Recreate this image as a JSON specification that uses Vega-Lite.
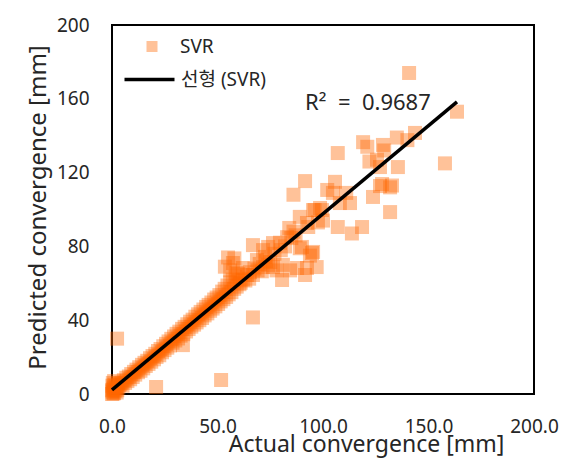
{
  "$schema": "https://vega.github.io/schema/vega-lite/v6.json",
  "autosize": {"type": "none"},
  "padding": {"left": 112, "top": 25, "right": 31, "bottom": 72},
  "width": 422,
  "height": 369,
  "view": {"stroke": "#000000", "strokeWidth": 2},
  "config": {
    "font": "Noto Sans, Noto Sans CJK KR, sans-serif",
    "view": {"stroke": "#000000", "strokeWidth": 2},
    "axis": {"grid": false, "domain": false, "ticks": false, "tickSize": 0, "labelFlush": false, "labelColor": "#262626", "titleColor": "#262626", "labelFontSize": 19, "titleFontSize": 23, "titleFontWeight": "normal"},
    "legend": {"labelFontSize": 19, "labelColor": "#262626", "padding": 0, "orient": "none"}
  },
  "datasets": {
    "pts": [
      {"actual": 0, "predicted": 0}, {"actual": 0.3, "predicted": 1.2}, {"actual": 0.5, "predicted": 2.5}, {"actual": 1, "predicted": 0.5},
      {"actual": 0.8, "predicted": 3.5}, {"actual": 1.5, "predicted": 1.8}, {"actual": 2, "predicted": 3}, {"actual": 0.2, "predicted": 4.5},
      {"actual": 1.2, "predicted": 5}, {"actual": 2.5, "predicted": 2}, {"actual": 0, "predicted": 2}, {"actual": 0.6, "predicted": 0.2},
      {"actual": 1.8, "predicted": 4.2}, {"actual": 3, "predicted": 3.5}, {"actual": 2.2, "predicted": 0.8}, {"actual": 0.4, "predicted": 6},
      {"actual": 3.5, "predicted": 4.8}, {"actual": 1, "predicted": 7}, {"actual": 4, "predicted": 5.5}, {"actual": 2.8, "predicted": 5.8},
      {"actual": 4.5, "predicted": 6.2}, {"actual": 5, "predicted": 4.5}, {"actual": 5.6, "predicted": 7.5}, {"actual": 6.2, "predicted": 6},
      {"actual": 6.8, "predicted": 8.8}, {"actual": 7.3, "predicted": 7}, {"actual": 8, "predicted": 9.5}, {"actual": 8.6, "predicted": 8},
      {"actual": 9.1, "predicted": 10.8}, {"actual": 9.8, "predicted": 9.2}, {"actual": 10.4, "predicted": 12}, {"actual": 11, "predicted": 10.5},
      {"actual": 11.6, "predicted": 13.2}, {"actual": 12.3, "predicted": 11.8}, {"actual": 12.9, "predicted": 14.5}, {"actual": 13.5, "predicted": 12.6},
      {"actual": 14.2, "predicted": 15.8}, {"actual": 14.8, "predicted": 13.9}, {"actual": 15.4, "predicted": 16.9}, {"actual": 16, "predicted": 15.2},
      {"actual": 16.7, "predicted": 18}, {"actual": 17.3, "predicted": 16.3}, {"actual": 18, "predicted": 19.4}, {"actual": 18.6, "predicted": 17.5},
      {"actual": 19.2, "predicted": 20.6}, {"actual": 19.9, "predicted": 18.8}, {"actual": 20.5, "predicted": 21.8}, {"actual": 21.1, "predicted": 20.1},
      {"actual": 21.8, "predicted": 23.3}, {"actual": 22.4, "predicted": 21}, {"actual": 23, "predicted": 24.4}, {"actual": 23.7, "predicted": 22.6},
      {"actual": 24.3, "predicted": 25.9}, {"actual": 24.9, "predicted": 23.8}, {"actual": 25.6, "predicted": 27.2}, {"actual": 26.2, "predicted": 25.1},
      {"actual": 26.8, "predicted": 28.5}, {"actual": 27.5, "predicted": 26.3}, {"actual": 28.1, "predicted": 29.9}, {"actual": 28.7, "predicted": 27.8},
      {"actual": 29.4, "predicted": 31.2}, {"actual": 30, "predicted": 29}, {"actual": 30.6, "predicted": 32.6}, {"actual": 31.3, "predicted": 30.1},
      {"actual": 31.9, "predicted": 33.8}, {"actual": 32.5, "predicted": 31.6}, {"actual": 33.2, "predicted": 35.3}, {"actual": 33.8, "predicted": 32.4},
      {"actual": 34.4, "predicted": 36.4}, {"actual": 35.1, "predicted": 33.9}, {"actual": 35.7, "predicted": 37.8}, {"actual": 36.3, "predicted": 35.2},
      {"actual": 37, "predicted": 39.2}, {"actual": 37.6, "predicted": 36.5}, {"actual": 38.2, "predicted": 40.3}, {"actual": 38.9, "predicted": 37.6},
      {"actual": 39.5, "predicted": 41.9}, {"actual": 40.1, "predicted": 38.8}, {"actual": 40.8, "predicted": 43.2}, {"actual": 41.4, "predicted": 40},
      {"actual": 42, "predicted": 44.5}, {"actual": 42.7, "predicted": 41.2}, {"actual": 43.3, "predicted": 45.8}, {"actual": 43.9, "predicted": 42.6},
      {"actual": 44.6, "predicted": 47.2}, {"actual": 45.2, "predicted": 43.7}, {"actual": 45.8, "predicted": 48.3}, {"actual": 46.5, "predicted": 45.1},
      {"actual": 47.1, "predicted": 49.6}, {"actual": 47.7, "predicted": 46.3}, {"actual": 48.4, "predicted": 51.2}, {"actual": 49, "predicted": 47.5},
      {"actual": 49.6, "predicted": 52.3}, {"actual": 50.3, "predicted": 48.8}, {"actual": 50.9, "predicted": 53.6}, {"actual": 51.5, "predicted": 50.2},
      {"actual": 52.2, "predicted": 55.5}, {"actual": 52.8, "predicted": 51.4}, {"actual": 53.4, "predicted": 57}, {"actual": 54.1, "predicted": 52.6},
      {"actual": 54.7, "predicted": 58.8}, {"actual": 55.3, "predicted": 54}, {"actual": 56, "predicted": 60.5}, {"actual": 56.6, "predicted": 55.2},
      {"actual": 57.2, "predicted": 62}, {"actual": 57.9, "predicted": 57}, {"actual": 58.5, "predicted": 63.5}, {"actual": 59.1, "predicted": 58.2},
      {"actual": 59.8, "predicted": 65}, {"actual": 60.4, "predicted": 59.5},
      {"actual": 55, "predicted": 74}, {"actual": 57.3, "predicted": 71}, {"actual": 56, "predicted": 67}, {"actual": 59, "predicted": 65.6},
      {"actual": 62, "predicted": 68.3}, {"actual": 53.5, "predicted": 69}, {"actual": 58, "predicted": 73.5},
      {"actual": 61, "predicted": 60.3}, {"actual": 62, "predicted": 62}, {"actual": 63.2, "predicted": 61.5}, {"actual": 64, "predicted": 64.5},
      {"actual": 65, "predicted": 62.5}, {"actual": 65.4, "predicted": 66}, {"actual": 66.8, "predicted": 64.5}, {"actual": 66.8, "predicted": 80.7},
      {"actual": 68.7, "predicted": 72.6}, {"actual": 72.5, "predicted": 74.3}, {"actual": 75, "predicted": 71.5}, {"actual": 76.3, "predicted": 68.8},
      {"actual": 78, "predicted": 67}, {"actual": 71.6, "predicted": 68.8}, {"actual": 67.5, "predicted": 68}, {"actual": 69, "predicted": 67},
      {"actual": 70, "predicted": 70.5}, {"actual": 71, "predicted": 66.5}, {"actual": 73, "predicted": 72}, {"actual": 74, "predicted": 70},
      {"actual": 76.3, "predicted": 81.8}, {"actual": 74, "predicted": 79.7}, {"actual": 71.6, "predicted": 78}, {"actual": 79.6, "predicted": 82},
      {"actual": 77, "predicted": 76}, {"actual": 80, "predicted": 78}, {"actual": 82, "predicted": 80}, {"actual": 81, "predicted": 70},
      {"actual": 80.6, "predicted": 61.8}, {"actual": 84.4, "predicted": 67}, {"actual": 89, "predicted": 79}, {"actual": 93.8, "predicted": 75},
      {"actual": 95.3, "predicted": 77}, {"actual": 97, "predicted": 68.8}, {"actual": 92.4, "predicted": 68.3}, {"actual": 91.5, "predicted": 64.5},
      {"actual": 87.7, "predicted": 68.3}, {"actual": 90, "predicted": 79.7}, {"actual": 94.8, "predicted": 76.4}, {"actual": 83, "predicted": 85},
      {"actual": 84, "predicted": 90}, {"actual": 86, "predicted": 88}, {"actual": 87, "predicted": 86}, {"actual": 85, "predicted": 84.5},
      {"actual": 89, "predicted": 96}, {"actual": 92.4, "predicted": 92.7}, {"actual": 93, "predicted": 90.5}, {"actual": 97.6, "predicted": 93},
      {"actual": 96, "predicted": 99.7}, {"actual": 99.5, "predicted": 99.7}, {"actual": 100, "predicted": 94}, {"actual": 95.3, "predicted": 99.7},
      {"actual": 98.6, "predicted": 100.8}, {"actual": 91.5, "predicted": 115.4}, {"actual": 86, "predicted": 108}, {"actual": 105.7, "predicted": 115},
      {"actual": 102, "predicted": 110.6}, {"actual": 104.7, "predicted": 109}, {"actual": 111, "predicted": 109}, {"actual": 108, "predicted": 103.5},
      {"actual": 112.8, "predicted": 103.5}, {"actual": 107, "predicted": 130.6}, {"actual": 107, "predicted": 90.5}, {"actual": 118.5, "predicted": 90.5},
      {"actual": 113.7, "predicted": 87}, {"actual": 123.7, "predicted": 106.8}, {"actual": 131.8, "predicted": 112}, {"actual": 127, "predicted": 112.7},
      {"actual": 131.8, "predicted": 98.6}, {"actual": 122, "predicted": 126}, {"actual": 125.6, "predicted": 127}, {"actual": 127, "predicted": 123},
      {"actual": 135.5, "predicted": 123}, {"actual": 119, "predicted": 136.5}, {"actual": 121, "predicted": 134}, {"actual": 128.4, "predicted": 135},
      {"actual": 129, "predicted": 132}, {"actual": 135, "predicted": 139}, {"actual": 140, "predicted": 137.6}, {"actual": 143.6, "predicted": 141.5},
      {"actual": 128, "predicted": 113.8}, {"actual": 132.7, "predicted": 113}, {"actual": 140.8, "predicted": 174}, {"actual": 163.5, "predicted": 153},
      {"actual": 157.8, "predicted": 125},
      {"actual": 2.4, "predicted": 30}, {"actual": 20.9, "predicted": 3.8}, {"actual": 51.7, "predicted": 7.6}, {"actual": 66.8, "predicted": 41.5},
      {"actual": 33.6, "predicted": 26.5}
    ],
    "trend": [
      {"actual": 0, "predicted": 2.2},
      {"actual": 163.5, "predicted": 158.3}
    ],
    "note": [
      {"actual": 91.5, "predicted": 157.7, "label": "R²\u00a0 =\u00a0 0.9687"}
    ]
  },
  "layer": [
    {
      "data": {"name": "pts"},
      "transform": [{"calculate": "'SVR'", "as": "series"}],
      "mark": {"type": "square", "size": 196, "opacity": 0.4, "filled": true, "strokeWidth": 0},
      "encoding": {
        "x": {"field": "actual", "type": "quantitative", "scale": {"domain": [0, 200], "nice": false, "zero": false},
              "axis": {"values": [0, 50, 100, 150, 200], "format": ".1f", "labelPadding": 23, "title": "Actual convergence [mm]",
                       "titleX": 254, "titleY": 50, "titleBaseline": "middle", "titleAlign": "center"}},
        "y": {"field": "predicted", "type": "quantitative", "scale": {"domain": [0, 200], "nice": false, "zero": false},
              "axis": {"values": [0, 40, 80, 120, 160, 200], "labelPadding": 23, "title": "Predicted convergence [mm]",
                       "titleFontSize": 24, "titleX": -74, "titleY": 182, "titleBaseline": "middle", "titleAlign": "center"}},
        "fill": {"field": "series", "type": "nominal",
                 "scale": {"domain": ["SVR"], "range": ["#FF6600"]},
                 "legend": {"title": null, "legendX": 30.5, "legendY": 12, "symbolType": "square", "symbolSize": 121,
                            "symbolOpacity": 0.4, "symbolStrokeWidth": 0, "labelOffset": 18.5}}
      }
    },
    {
      "data": {"name": "trend"},
      "transform": [{"calculate": "'선형 (SVR)'", "as": "series"}],
      "mark": {"type": "line", "strokeWidth": 3.5},
      "encoding": {
        "x": {"field": "actual", "type": "quantitative"},
        "y": {"field": "predicted", "type": "quantitative"},
        "stroke": {"field": "series", "type": "nominal",
                   "scale": {"domain": ["선형 (SVR)"], "range": ["#000000"]},
                   "legend": {"title": null, "legendX": 28, "legendY": 45, "symbolType": "M-5,0L5,0", "symbolSize": 100,
                              "symbolStrokeWidth": 3.5, "symbolFillColor": "transparent", "labelOffset": 22}}
      }
    },
    {
      "data": {"name": "note"},
      "mark": {"type": "text", "align": "left", "baseline": "middle", "fontSize": 22, "color": "#262626"},
      "encoding": {
        "x": {"field": "actual", "type": "quantitative"},
        "y": {"field": "predicted", "type": "quantitative"},
        "text": {"field": "label"}
      }
    }
  ]
}
